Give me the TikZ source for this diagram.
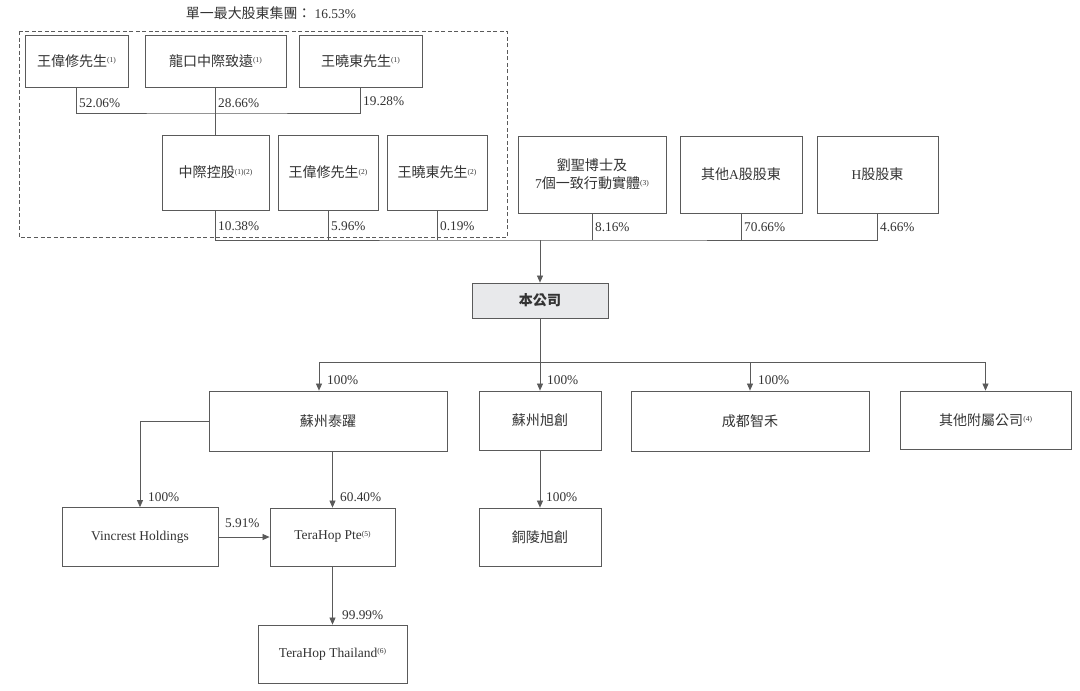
\documentclass[tikz,border=0pt]{standalone}
\usepackage{fontspec}
\setmainfont{Liberation Serif}
\newfontfamily\cjk[Scale=1.04]{Noto Sans CJK TC}
\usetikzlibrary{arrows.meta}
\newcommand{\zh}[1]{{\cjk #1}}
\newcommand{\fnote}[1]{\raisebox{0.55ex}{\fontsize{7.5}{8}\selectfont(#1)}}
\definecolor{inkgray}{HTML}{333333}
\definecolor{linegray}{HTML}{5A5A5A}
\definecolor{cofill}{HTML}{E8E9EB}
\tikzset{
  box/.style={draw=linegray, line width=0.8pt, inner sep=2pt, align=center,
    text=inkgray, font=\fontsize{13.5}{18}\selectfont},
  pct/.style={anchor=west, inner sep=1pt, text=inkgray, font=\fontsize{13.3}{15}\selectfont},
  link/.style={draw=linegray, line width=0.7pt},
  own/.style={link, -{Triangle[length=7pt,width=6pt]}},
}
\begin{document}
\begin{tikzpicture}[x=1pt,y=-1pt]
\useasboundingbox (0,0) rectangle (1080,691);

% group of the largest shareholders
\node[text=inkgray, font=\fontsize{13.4}{15}\selectfont] (title) at (271,13) {\zh{單一最大股東集團：} 16.53\%};
\draw[linegray, line width=0.8pt, dash pattern=on 4pt off 2.5pt] (19,31) rectangle (507,237);

\node[box, minimum width=103pt, minimum height=52pt] (wxA) at (76.5,61) {\zh{王偉修先生}\fnote{1}};
\node[box, minimum width=141pt, minimum height=52pt] (lkzy) at (215.5,61) {\zh{龍口中際致遠}\fnote{1}};
\node[box, minimum width=123pt, minimum height=52pt] (xdA) at (360.5,61) {\zh{王曉東先生}\fnote{1}};

\node[box, minimum width=107pt, minimum height=75pt] (zjkg) at (215.5,172.5) {\zh{中際控股}\fnote{1}\fnote{2}};
\node[box, minimum width=100pt, minimum height=75pt] (wxB) at (328,172.5) {\zh{王偉修先生}\fnote{2}};
\node[box, minimum width=100pt, minimum height=75pt] (xdB) at (437,172.5) {\zh{王曉東先生}\fnote{2}};

% other shareholders
\node[box, minimum width=148pt, minimum height=77pt] (liu) at (592,174.5) {\zh{劉聖博士及}\\7\zh{個一致行動實體}\fnote{3}};
\node[box, minimum width=122pt, minimum height=77pt] (othA) at (741,174.5) {\zh{其他}A\zh{股股東}};
\node[box, minimum width=121pt, minimum height=77pt] (hsh) at (877.5,174.5) {H\zh{股股東}};

\node[box, fill=cofill, minimum width=136pt, minimum height=35pt] (co) at (540,300.5) {\zh{\bfseries 本公司}};

% subsidiaries
\node[box, minimum width=238pt, minimum height=60pt] (szty) at (328,421) {\zh{蘇州泰躍}};
\node[box, minimum width=122pt, minimum height=59pt] (szxc) at (540,420.5) {\zh{蘇州旭創}};
\node[box, minimum width=238pt, minimum height=60pt] (cdzh) at (750,421) {\zh{成都智禾}};
\node[box, minimum width=171pt, minimum height=58pt] (qtfs) at (985.5,420) {\zh{其他附屬公司}\fnote{4}};

\node[box, minimum width=156pt, minimum height=59pt] (vin) at (140,537) {Vincrest Holdings};
\node[box, minimum width=125pt, minimum height=58pt] (thp) at (332.5,537) {TeraHop Pte\fnote{5}};
\node[box, minimum width=149pt, minimum height=58pt] (tht) at (332.5,654) {TeraHop Thailand\fnote{6}};
\node[box, minimum width=122pt, minimum height=58pt] (tlxc) at (540,537) {\zh{銅陵旭創}};

% connectors
\coordinate (jA) at (215.5,113);
\coordinate (jB) at (540,240);
\coordinate (jC) at (540,362);
\coordinate (jL) at (319,362);

\draw[link] (wxA.south) |- (jA) -| (xdA.south);
\draw[link] (lkzy.south) -- (zjkg.north);

\draw[link] (zjkg.south) |- (jB) -| (hsh.south);
\draw[link] (wxB.south) -- (wxB.south |- jB);
\draw[link] (xdB.south) -- (xdB.south |- jB);
\draw[link] (liu.south) -- (liu.south |- jB);
\draw[link] (othA.south) -- (othA.south |- jB);
\draw[own] (jB) -- (co.north);

\draw[own] (co.south) -- (szxc.north);
\draw[own] (jC) -- (jL) -- (jL |- szty.north);
\draw[own] (jC) -| (qtfs.north);
\draw[own] (cdzh.north |- jC) -- (cdzh.north);

\draw[own] (szty.west) -| (vin.north);
\draw[own] (thp.north |- szty.south) -- (thp.north);
\draw[own] (vin.east) -- (thp.west);
\draw[own] (thp.south) -- (tht.north);
\draw[own] (szxc.south) -- (tlxc.north);

% percentages
\node[pct] (pWxA) at (78,103) {52.06\%};
\node[pct] (pLkzy) at (217,103) {28.66\%};
\node[pct] (pXdA) at (362,101) {19.28\%};
\node[pct] (pZjkg) at (217,226) {10.38\%};
\node[pct] (pWxB) at (330,226) {5.96\%};
\node[pct] (pXdB) at (439,226) {0.19\%};
\node[pct] (pLiu) at (594,227) {8.16\%};
\node[pct] (pOthA) at (743,227) {70.66\%};
\node[pct] (pHsh) at (879,227) {4.66\%};
\node[pct] (pSzty) at (326,380) {100\%};
\node[pct] (pSzxc) at (546,380) {100\%};
\node[pct] (pCdzh) at (757,380) {100\%};
\node[pct] (pVin) at (147,497) {100\%};
\node[pct] (pThp) at (339,497) {60.40\%};
\node[pct] (pVinThp) at (224,523) {5.91\%};
\node[pct] (pTht) at (341,615) {99.99\%};
\node[pct] (pTlxc) at (545,497) {100\%};
\end{tikzpicture}
\end{document}
